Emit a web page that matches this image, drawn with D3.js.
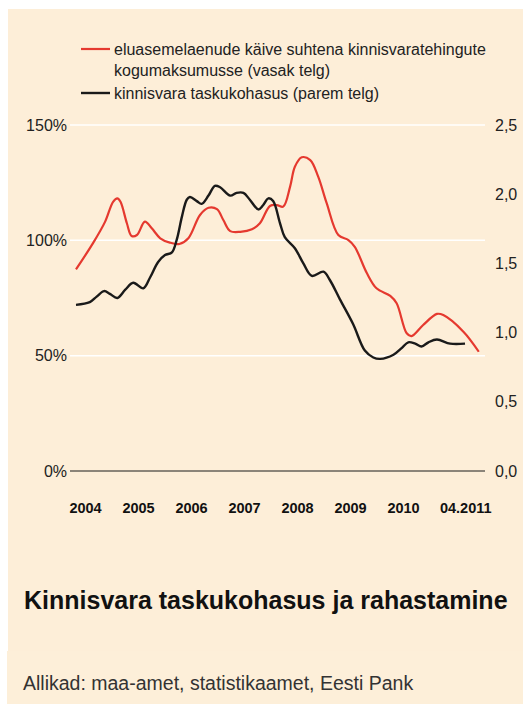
<!DOCTYPE html>
<html>
<head>
<meta charset="utf-8">
<script src="https://cdn.jsdelivr.net/npm/d3@7"></script>
<style>
  body { margin: 0; background: #fff; }
  svg { display: block; font-family: "Liberation Sans", Arial, Helvetica, sans-serif; }
</style>
</head>
<body>
<div id="chart"></div>
<script>
// red: loan turnover vs total real estate deals (left axis, %)
const redSeries = [
  [2003.83, 87.4], [2004.16, 99.1], [2004.38, 108.1], [2004.53, 116.7], [2004.61, 118.2],
  [2004.67, 116.7], [2004.79, 107.4], [2004.88, 101.9], [2004.98, 102.3], [2005.13, 108.1],
  [2005.26, 105.2], [2005.42, 100.9], [2005.60, 99.0], [2005.78, 98.4], [2005.95, 100.9],
  [2006.17, 111.0], [2006.33, 114.1], [2006.49, 113.5], [2006.61, 108.8], [2006.74, 104.0],
  [2006.93, 103.7], [2007.15, 104.8], [2007.30, 107.4], [2007.49, 114.9], [2007.62, 115.3],
  [2007.74, 114.6], [2007.87, 123.3], [2007.96, 131.9], [2008.09, 136.0], [2008.25, 134.8],
  [2008.40, 127.6], [2008.56, 116.1], [2008.78, 102.3], [2008.97, 100.1], [2009.09, 97.2],
  [2009.32, 85.7], [2009.50, 79.2], [2009.76, 75.9], [2009.88, 72.7], [2010.07, 59.7],
  [2010.16, 58.5], [2010.38, 63.3], [2010.64, 68.1], [2010.76, 67.6], [2011.14, 60.4],
  [2011.43, 51.7]
];
// black: affordability (right axis)
const blackSeries = [
  [2003.83, 1.20], [2004.09, 1.22], [2004.22, 1.26], [2004.36, 1.30], [2004.47, 1.28],
  [2004.61, 1.25], [2004.76, 1.31], [2004.91, 1.36], [2005.10, 1.32], [2005.23, 1.40],
  [2005.38, 1.51], [2005.51, 1.56], [2005.64, 1.58], [2005.73, 1.67], [2005.83, 1.84],
  [2005.92, 1.96], [2005.98, 1.98], [2006.11, 1.95], [2006.20, 1.93], [2006.33, 1.99],
  [2006.45, 2.06], [2006.55, 2.05], [2006.74, 1.99], [2006.86, 2.01], [2006.99, 2.01],
  [2007.11, 1.96], [2007.27, 1.89], [2007.36, 1.92], [2007.46, 1.97], [2007.55, 1.95],
  [2007.68, 1.79], [2007.77, 1.69], [2007.96, 1.61], [2008.12, 1.50], [2008.28, 1.41],
  [2008.50, 1.44], [2008.62, 1.38], [2008.81, 1.24], [2009.06, 1.06], [2009.28, 0.87],
  [2009.44, 0.82], [2009.57, 0.81], [2009.82, 0.84], [2009.98, 0.89], [2010.10, 0.93],
  [2010.23, 0.92], [2010.35, 0.90], [2010.48, 0.93], [2010.64, 0.95], [2010.89, 0.92],
  [2011.17, 0.92]
];
const xTicks = [2004, 2005, 2006, 2007, 2008, 2009, 2010, 2011.25];
const xTickLabels = ["2004", "2005", "2006", "2007", "2008", "2009", "2010", "04.2011"];
const leftTicks = [0, 50, 100, 150];
const rightTicks = [0, 0.5, 1, 1.5, 2, 2.5];
const legendLabels = [
  ["eluasemelaenude käive suhtena kinnisvaratehingute", "kogumaksumusse (vasak telg)"],
  ["kinnisvara taskukohasus (parem telg)"]
];
const title = "Kinnisvara taskukohasus ja rahastamine";
const source = "Allikad: maa-amet, statistikaamet, Eesti Pank";

const W = 523, H = 706;
const plotL = 70, plotR = 485, plotT = 125, plotB = 471;
const red = "#e5392f", ink = "#1a1a1a";

const svg = d3.select("#chart").append("svg").attr("width", W).attr("height", H);

// panels
svg.append("rect").attr("x", 8).attr("y", 9).attr("width", W - 8).attr("height", 642).attr("fill", "#fdeed8");
svg.append("rect").attr("x", 7).attr("y", 651).attr("width", W - 7).attr("height", 53).attr("fill", "#fdefd9");

const x = d3.scaleLinear().domain([2004, 2010]).range([85, 403]);
const yL = d3.scaleLinear().domain([0, 150]).range([plotB, plotT]);
const yR = d3.scaleLinear().domain([0, 2.5]).range([plotB, plotT]);

// gridlines
svg.append("g").selectAll("line").data(leftTicks.filter(d => d > 0)).enter().append("line")
  .attr("x1", plotL).attr("x2", plotR)
  .attr("y1", d => yL(d)).attr("y2", d => yL(d))
  .attr("stroke", "#fff").attr("stroke-width", 1.5);
svg.append("line").attr("x1", plotL).attr("x2", plotR)
  .attr("y1", yL(0)).attr("y2", yL(0)).attr("stroke", ink).attr("stroke-width", 1);

// axes
const gL = svg.append("g").attr("transform", `translate(${plotL},0)`)
  .call(d3.axisLeft(yL).tickValues(leftTicks).tickFormat(d => d + "%").tickSize(0).tickPadding(3));
const gR = svg.append("g").attr("transform", `translate(${plotR},0)`)
  .call(d3.axisRight(yR).tickValues(rightTicks).tickFormat(d => d.toFixed(1).replace(".", ",")).tickSize(0).tickPadding(10));
const gX = svg.append("g").attr("transform", `translate(0,${plotB})`)
  .call(d3.axisBottom(x).tickValues(xTicks).tickFormat((d, i) => xTickLabels[i]).tickSize(0).tickPadding(32));
[gL, gR, gX].forEach(g => {
  g.select(".domain").remove();
  g.attr("font-family", null).attr("font-size", 16);
  g.selectAll("text").attr("fill", "#222");
});
gX.attr("font-size", 14.5).attr("font-weight", "bold");
gX.selectAll("text").attr("fill", "#111").attr("dx", (d, i) => i === xTicks.length - 1 ? -4 : 0);

// lines
const lineL = d3.line().x(d => x(d[0])).y(d => yL(d[1])).curve(d3.curveCatmullRom.alpha(0.5));
const lineR = d3.line().x(d => x(d[0])).y(d => yR(d[1])).curve(d3.curveCatmullRom.alpha(0.5));
svg.append("path").datum(redSeries).attr("d", lineL)
  .attr("fill", "none").attr("stroke", red).attr("stroke-width", 2.2).attr("stroke-linejoin", "round");
svg.append("path").datum(blackSeries).attr("d", lineR)
  .attr("fill", "none").attr("stroke", ink).attr("stroke-width", 2.4).attr("stroke-linejoin", "round");

// legend
const legend = svg.append("g").attr("font-size", 16).attr("fill", "#222");
const legendY = [49, 93];
[red, ink].forEach((c, i) => {
  legend.append("line").attr("x1", 81).attr("x2", 110).attr("y1", legendY[i]).attr("y2", legendY[i])
    .attr("stroke", c).attr("stroke-width", i ? 2.4 : 2.2);
  legendLabels[i].forEach((t, j) => {
    legend.append("text").attr("x", 114).attr("y", legendY[i] + j * 21.5).attr("dy", "0.35em").text(t);
  });
});

svg.append("text").attr("x", 24).attr("y", 600).attr("dy", "0.35em")
  .attr("font-size", 25).attr("font-weight", "bold").attr("fill", "#111").text(title);
svg.append("text").attr("x", 23).attr("y", 683).attr("dy", "0.35em")
  .attr("font-size", 19.5).attr("fill", "#333").text(source);
</script>
</body>
</html>
